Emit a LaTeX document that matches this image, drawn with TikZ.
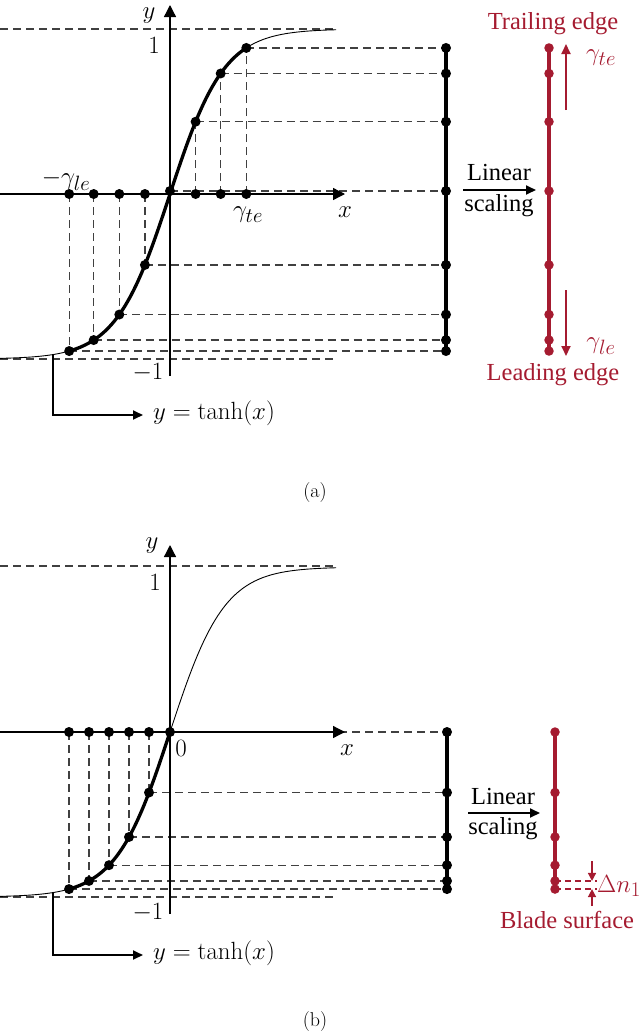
\documentclass[tikz,border=0pt]{standalone}
\usepackage{fontspec}
\newfontfamily\tnr{Liberation Serif}
\usetikzlibrary{arrows.meta}
\definecolor{crim}{RGB}{165,27,48}
\tikzset{
  dsh/.style={draw=black!75, line width=1.3pt, dash pattern=on 8pt off 5pt},
  dot/.style={circle, fill=black, inner sep=0pt, minimum size=10pt},
  rdot/.style={circle, fill=crim, inner sep=0pt, minimum size=9.5pt},
  axisline/.style={line width=1.3pt, -{Triangle[length=12pt,width=12pt]}},
  bigarrow/.style={line width=1.8pt, -{Triangle[length=10pt,width=9pt]}},
  redarrow/.style={draw=crim, line width=1.8pt, -{Triangle[length=10pt,width=9pt]}},
  thincurve/.style={line width=0.9pt},
  thickcurve/.style={line width=3.3pt},
  vline/.style={line width=3.2pt},
  mlabel/.style={font=\fontsize{24.88}{29}\selectfont, inner sep=0pt},
  tlabel/.style={font=\tnr\fontsize{24.5}{29}\selectfont, inner sep=0pt},
  caplabel/.style={font=\fontsize{20}{24}\selectfont, inner sep=0pt}
}
\def\sx{54.5}
\def\sy{165}
\begin{document}
\begin{tikzpicture}[x=1pt,y=-1pt]
\useasboundingbox (0,0) rectangle (640,1031);

% ================= panel (a) =================
\coordinate (L1a) at (0,29);   \coordinate (L1b) at (336,29);
\coordinate (M1a) at (0,359);  \coordinate (M1b) at (336,359);
\draw[dsh] (L1a) -- (L1b);
\draw[dsh] (M1a) -- (M1b);
\foreach \n/\v in {n1/-1.85, n2/-1.40, n3/-0.93, n4/-0.46, p1/0.47, p2/0.93, p3/1.40}{
  \coordinate (Ac\n) at ({170+\sx*\v},{194-\sy*tanh(\v)});
  \coordinate (Aa\n) at ({170+\sx*\v},194);
  \coordinate (Ar\n) at (446,{194-\sy*tanh(\v)});
  \coordinate (As\n) at (549,{194-\sy*tanh(\v)});
  \draw[dsh] (Aa\n) -- (Ac\n);
  \draw[dsh] (Ac\n) -- (Ar\n);
}
\coordinate (AO) at (170,191);
\coordinate (ArO) at (446,191);
\coordinate (AsO) at (549,191);
\draw[dsh] (AO) -- (ArO);
% axes
\coordinate (AxL) at (0,194); \coordinate (AxR) at (345,194);
\coordinate (AyB) at (170,376); \coordinate (AyT) at (170,5);
\draw[axisline] (AxL) -- (AxR);
\draw[axisline] (AyB) -- (AyT);
% curve
\draw[thincurve] plot[domain=-3.12:3.05, samples=120] ({170+\sx*\x},{194-\sy*tanh(\x)});
\draw[thickcurve] plot[domain=-1.85:1.40, samples=80] ({170+\sx*\x},{194-\sy*tanh(\x)});
% vertical black line
\draw[vline] (Arp3) -- (Arn1);
% red line
\draw[vline, crim] (Asp3) -- (Asn1);
% dots
\foreach \n in {n1,n2,n3,n4,p1,p2,p3}{
  \node[dot] at (Ac\n) {};
  \node[dot] at (Aa\n) {};
  \node[dot] at (Ar\n) {};
  \node[rdot] at (As\n) {};
}
\node[dot] (AOd) at (AO) {};
\node[dot] at (ArO) {};
\node[rdot] at (AsO) {};
% labels
\node[mlabel] (Aylab) at (149,16) {$y$};
\node[mlabel] (Aone) at (154,45) {$1$};
\node[mlabel] (Amone) at (148,373) {$-1$};
\node[mlabel] (Axlab) at (345,212) {$x$};
\node[mlabel] (Agle) at (66,180) {$-\gamma_{le}$};
\node[mlabel] (Agte) at (248,215) {$\gamma_{te}$};
% tanh label with L arrow
\coordinate (AL0) at ({170+\sx*(-2.147)},{194-\sy*tanh(-2.147)});
\coordinate (AL1) at (53,415);
\coordinate (AL2) at (143,415);
\draw[bigarrow] (AL0) -- (AL1) -- (AL2);
\node[mlabel, anchor=west] (Atanh) at (153,413) {$y=\tanh(x)$};
% linear scaling
\coordinate (AS1) at (463,190); \coordinate (AS2) at (536,190);
\draw[bigarrow] (AS1) -- (AS2);
\node[tlabel] (Alin) at (499,173) {Linear};
\node[tlabel] (Asc) at (499,206) {scaling};
% red annotations
\coordinate (AR1) at (566,110); \coordinate (AR2) at (566,44);
\coordinate (AR3) at (566,290); \coordinate (AR4) at (566,356);
\draw[redarrow] (AR1) -- (AR2);
\draw[redarrow] (AR3) -- (AR4);
\node[mlabel, text=crim] (Argte) at (601,58) {$\gamma_{te}$};
\node[mlabel, text=crim] (Argle) at (601,346) {$\gamma_{le}$};
\node[tlabel, text=crim] (Atrail) at (553,24) {Trailing edge};
\node[tlabel, text=crim] (Alead) at (553,375) {Leading edge};
\node[caplabel] (capa) at (315,493) {(a)};

% ================= panel (b) =================
\coordinate (L2a) at (0,566);   \coordinate (L2b) at (336,566);
\coordinate (M2a) at (0,897);  \coordinate (M2b) at (336,897);
\draw[dsh] (L2a) -- (L2b);
\draw[dsh] (M2a) -- (M2b);
\foreach \n/\v in {n1/-1.853, n2/-1.486, n3/-1.119, n4/-0.752, n5/-0.385}{
  \coordinate (Bc\n) at ({170+\sx*\v},{732-\sy*tanh(\v)});
  \coordinate (Ba\n) at ({170+\sx*\v},732);
  \coordinate (Br\n) at (447,{732-\sy*tanh(\v)});
  \coordinate (Bs\n) at (555,{732-\sy*tanh(\v)});
  \draw[dsh] (Ba\n) -- (Bc\n);
  \draw[dsh] (Bc\n) -- (Br\n);
}
\coordinate (BO) at (170,732);
\coordinate (BrO) at (447,732);
\coordinate (BsO) at (555,732);
\draw[dsh] (BO) -- (BrO);
\coordinate (BxL) at (0,732); \coordinate (BxR) at (345,732);
\coordinate (ByB) at (170,914); \coordinate (ByT) at (170,545);
\draw[axisline] (BxL) -- (BxR);
\draw[axisline] (ByB) -- (ByT);
\draw[thincurve] plot[domain=-3.12:3.05, samples=120] ({170+\sx*\x},{732-\sy*tanh(\x)});
\draw[thickcurve] plot[domain=-1.853:0, samples=60] ({170+\sx*\x},{732-\sy*tanh(\x)});
\draw[vline] (BrO) -- (Brn1);
\draw[vline, crim] (BsO) -- (Bsn1);
\foreach \n in {n1,n2,n3,n4,n5}{
  \node[dot] at (Bc\n) {};
  \node[dot] at (Ba\n) {};
  \node[dot] at (Br\n) {};
  \node[rdot] at (Bs\n) {};
}
\node[dot] (BOd) at (BO) {};
\node[dot] at (BrO) {};
\node[rdot] at (BsO) {};
\node[mlabel] (Bylab) at (152,546) {$y$};
\node[mlabel] (Bone) at (155,582) {$1$};
\node[mlabel] (Bzero) at (181,748) {$0$};
\node[mlabel] (Bxlab) at (347,750) {$x$};
\node[mlabel] (Bmone) at (148,913) {$-1$};
\coordinate (BL0) at ({170+\sx*(-2.147)},{732-\sy*tanh(-2.147)});
\coordinate (BL1) at (53,955);
\coordinate (BL2) at (143,955);
\draw[bigarrow] (BL0) -- (BL1) -- (BL2);
\node[mlabel, anchor=west] (Btanh) at (153,953) {$y=\tanh(x)$};
\coordinate (BS1) at (468,813); \coordinate (BS2) at (540,813);
\draw[bigarrow] (BS1) -- (BS2);
\node[tlabel] (Blin) at (503,796) {Linear};
\node[tlabel] (Bsc) at (503,829) {scaling};
% delta n
\coordinate (BD1) at (597,{732-\sy*tanh(-1.486)});
\coordinate (BD2) at (597,{732-\sy*tanh(-1.853)});
\draw[draw=crim, line width=1.2pt, dash pattern=on 6pt off 4pt] (Bsn2) -- (BD1);
\draw[draw=crim, line width=1.2pt, dash pattern=on 6pt off 4pt] (Bsn1) -- (BD2);
\coordinate (BDa) at (592,861); \coordinate (BDb) at (592,{732-\sy*tanh(-1.486)});
\coordinate (BDc) at (592,906); \coordinate (BDd) at (592,{732-\sy*tanh(-1.853)});
\draw[draw=crim, line width=1.5pt, -{Triangle[length=8pt,width=8pt]}] (BDa) -- (BDb);
\draw[draw=crim, line width=1.5pt, -{Triangle[length=8pt,width=8pt]}] (BDc) -- (BDd);
\node[mlabel, text=crim] (Bdn) at (619,886) {$\Delta n_1$};
\node[tlabel, text=crim] (Bblade) at (567,920) {Blade surface};
\node[caplabel] (capb) at (315,1021) {(b)};
\end{tikzpicture}
\end{document}
